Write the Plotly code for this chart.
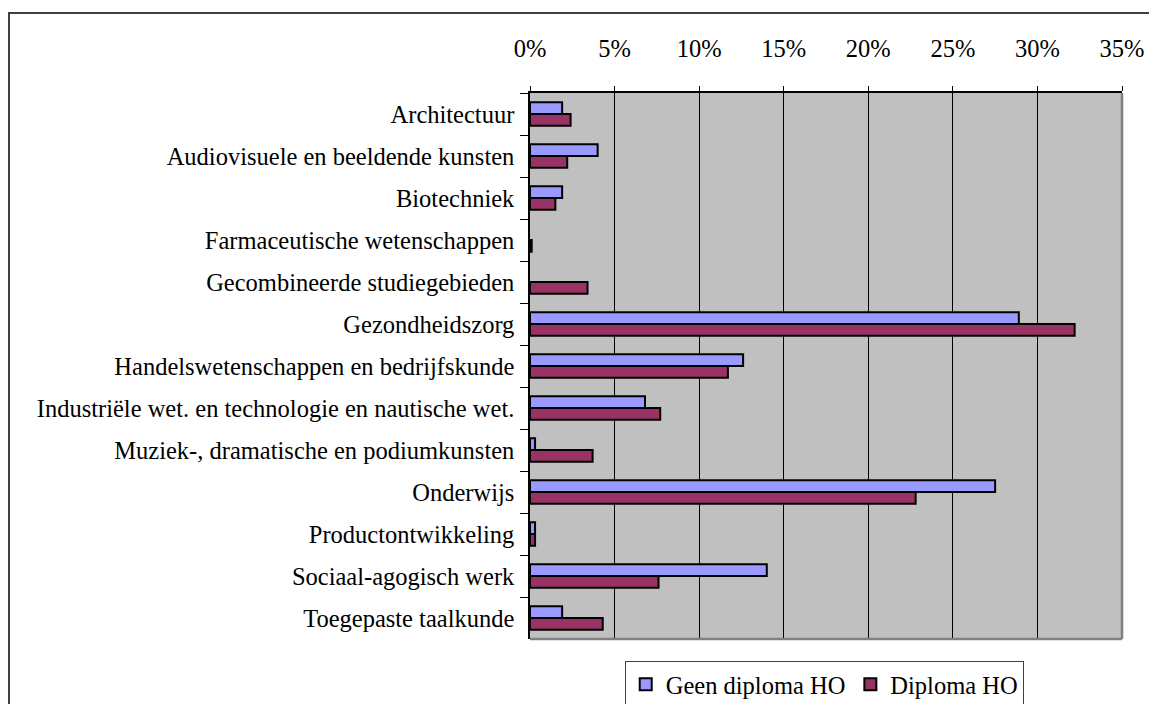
import plotly.graph_objects as go

categories = [
    "Architectuur",
    "Audiovisuele en beeldende kunsten",
    "Biotechniek",
    "Farmaceutische wetenschappen",
    "Gecombineerde studiegebieden",
    "Gezondheidszorg",
    "Handelswetenschappen en bedrijfskunde",
    "Industriële wet. en technologie en nautische wet.",
    "Muziek-, dramatische en podiumkunsten",
    "Onderwijs",
    "Productontwikkeling",
    "Sociaal-agogisch werk",
    "Toegepaste taalkunde",
]
geen_diploma = [1.9, 4.0, 1.9, 0.0, 0.0, 28.9, 12.6, 6.8, 0.3, 27.5, 0.3, 14.0, 1.9]
diploma = [2.4, 2.2, 1.5, 0.1, 3.4, 32.2, 11.7, 7.7, 3.7, 22.8, 0.3, 7.6, 4.3]
x_ticks = [0, 5, 10, 15, 20, 25, 30, 35]
x_tick_labels = ["0%", "5%", "10%", "15%", "20%", "25%", "30%", "35%"]

FONT = "Liberation Serif"
FS = 24.5


def outline_widths(values):
    return [0 if v == 0 else 2 for v in values]


fig = go.Figure()
fig.add_trace(go.Bar(
    y=categories, x=geen_diploma, orientation="h", name="Geen diploma HO",
    marker=dict(color="#9999FF",
                line=dict(color="black", width=outline_widths(geen_diploma))),
))
fig.add_trace(go.Bar(
    y=categories, x=diploma, orientation="h", name="Diploma HO",
    marker=dict(color="#993366",
                line=dict(color="black", width=outline_widths(diploma))),
))

# page body has an 8px margin; compensate so the chart lands at page coords
OFF = 8
W, H = 1157 - OFF, 704 - OFF
L, R, T, B = 530 - OFF, 35, 93 - OFF, 65
pw, ph = W - L - R, H - T - B

fig.update_layout(
    width=W, height=H,
    margin=dict(l=L, r=R, t=T, b=B, pad=0, autoexpand=False),
    paper_bgcolor="white",
    plot_bgcolor="#C0C0C0",
    barmode="group",
    bargap=0.44,
    bargroupgap=0,
    font=dict(family=FONT, size=FS, color="black"),
    showlegend=True,
    legend=dict(
        orientation="h", x=0.497, xanchor="center", y=-0.04, yanchor="top",
        bordercolor="#404040", borderwidth=1, bgcolor="white",
        font=dict(family=FONT, size=FS, color="black"),
        itemsizing="constant", traceorder="normal",
        itemwidth=30, tracegroupgap=0,
    ),
    xaxis=dict(
        side="top", range=[0, 35], tickvals=x_ticks, ticktext=x_tick_labels,
        showgrid=True, gridcolor="black", gridwidth=1,
        showline=True, linecolor="black", linewidth=1.5,
        ticks="outside", ticklen=5, tickcolor="black",
        ticklabelstandoff=19, zeroline=False, fixedrange=True,
        automargin=False,
    ),
    yaxis=dict(
        autorange="reversed", type="category",
        showline=True, linecolor="black", linewidth=1.5,
        ticks="outside", ticklen=8, tickcolor="black", tickson="boundaries",
        showgrid=False, ticklabelstandoff=9, fixedrange=True,
        automargin=False,
    ),
)

# outer chart frame (left edge at the figure's left, top at page y=13)
fig.add_shape(type="rect", xref="paper", yref="paper",
              x0=(1 - L) / pw, x1=(W + 20 - L) / pw,
              y0=-(B + 20) / ph, y1=(H - (13 - OFF) - B) / ph,
              line=dict(color="#404040", width=2), fillcolor="rgba(0,0,0,0)",
              layer="below")
# right and bottom gray plot borders
fig.add_shape(type="line", xref="paper", yref="paper", x0=1, x1=1, y0=0, y1=1,
              line=dict(color="#808080", width=2.5))
fig.add_shape(type="line", xref="paper", yref="paper", x0=0, x1=1, y0=0, y1=0,
              line=dict(color="#808080", width=2.5))

fig.write_html("out.html")
